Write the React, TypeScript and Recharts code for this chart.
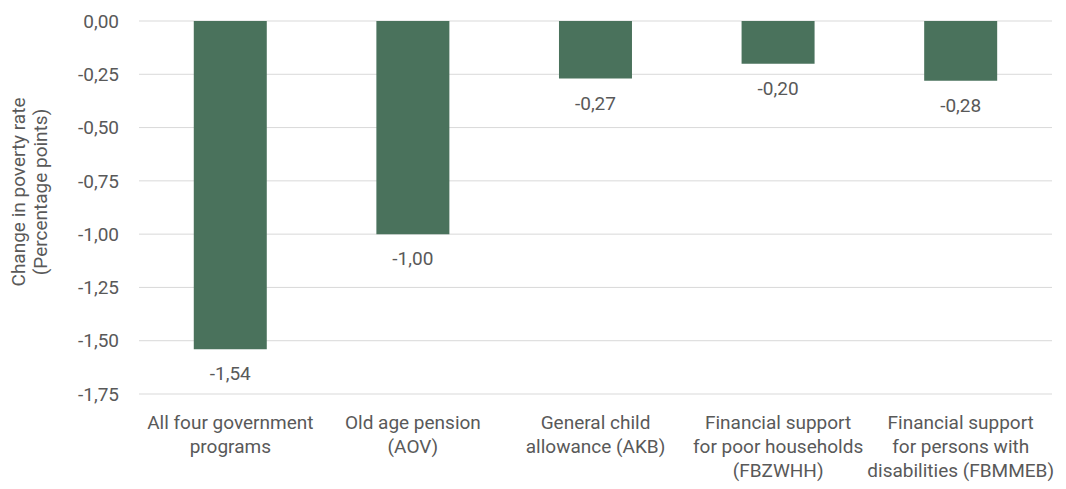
import { BarChart, Bar, XAxis, YAxis, CartesianGrid, LabelList } from "recharts";

const programs = ["all", "aov", "akb", "fbzwhh", "fbmmeb"];

const programLabels = [
  ["All four government", "programs"],
  ["Old age pension", "(AOV)"],
  ["General child", "allowance (AKB)"],
  ["Financial support", "for poor households", "(FBZWHH)"],
  ["Financial support", "for persons with", "disabilities (FBMMEB)"],
];

const povertyChange = [-1.54, -1.0, -0.27, -0.2, -0.28];

const yTicks = [0, -0.25, -0.5, -0.75, -1.0, -1.25, -1.5, -1.75];

const data = programs.map((key, i) => ({
  key,
  value: povertyChange[i],
}));

const FONT = "Roboto, sans-serif";
const TEXT = "#595959";
const SIZE = 19;

function formatNum(v: number) {
  return v.toFixed(2).replace(".", ",");
}

function XTick({ x, y, index }: any) {
  const lines = programLabels[index] ?? [];
  return (
    <text
      x={x}
      y={y}
      textAnchor="middle"
      fontFamily={FONT}
      fontSize={SIZE}
      fill={TEXT}
    >
      {lines.map((line, i) => (
        <tspan key={i} x={x} dy={i === 0 ? 27 : 24}>
          {line}
        </tspan>
      ))}
    </text>
  );
}

function BarValue({ x, y, width, height, value }: any) {
  const bottom = Math.max(y, y + height);
  return (
    <text
      x={x + width / 2}
      y={bottom + 31}
      textAnchor="middle"
      fontFamily={FONT}
      fontSize={SIZE}
      fill={TEXT}
    >
      {formatNum(value)}
    </text>
  );
}

export default function App() {
  return (
    <div style={{ position: "absolute", left: 0, top: 0, background: "#fff" }}>
      <BarChart
        width={1066}
        height={489}
        data={data}
        margin={{ top: 21, right: 14, bottom: 15, left: 0 }}
        barCategoryGap="30%"
      >
        <CartesianGrid vertical={false} stroke="#d9d9d9" strokeWidth={1} />
        <XAxis
          dataKey="key"
          axisLine={false}
          tickLine={false}
          tick={<XTick />}
          interval={0}
          height={80}
        />
        <YAxis
          domain={[-1.75, 0]}
          ticks={yTicks}
          width={139}
          axisLine={false}
          tickLine={false}
          tickSize={0}
          tickMargin={20}
          tickFormatter={formatNum}
          tick={{ fontFamily: FONT, fontSize: SIZE, fill: TEXT }}
        />
        <Bar dataKey="value" fill="#4a725c" isAnimationActive={false}>
          <LabelList dataKey="value" content={<BarValue />} />
        </Bar>
        <text
          transform="translate(25,192) rotate(-90)"
          textAnchor="middle"
          fontFamily={FONT}
          fontSize={19}
          fill={TEXT}
        >
          <tspan x={0} dy={0}>Change in poverty rate</tspan>
          <tspan x={0} dy={22}>(Percentage points)</tspan>
        </text>
      </BarChart>
    </div>
  );
}
